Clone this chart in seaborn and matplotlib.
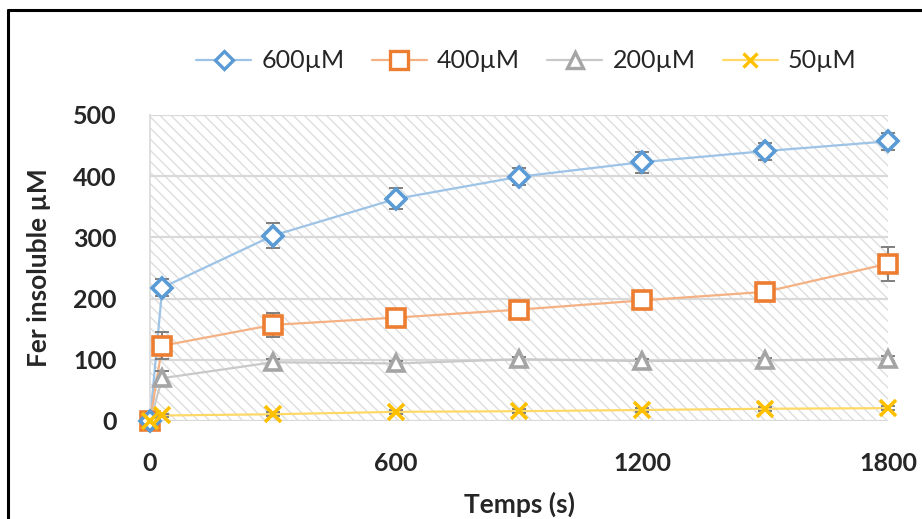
import matplotlib
matplotlib.use("Agg")
import matplotlib.pyplot as plt
from matplotlib.patches import Rectangle
from matplotlib.lines import Line2D
import seaborn as sns
import pandas as pd

# Sampling times (s)
temps = [0, 30, 300, 600, 900, 1200, 1500, 1800]

# Insoluble iron (µM) for each initial concentration, with error bars
fer_600 = [0, 218, 303, 363, 399, 423, 441, 457]
err_600 = [0, 14, 21, 17, 14, 17, 14, 14]
fer_400 = [0, 123, 157, 169, 182, 197, 211, 257]
err_400 = [0, 22, 19, 5, 5, 5, 5, 28]
fer_200 = [0, 70, 96, 94, 101, 98, 99, 102]
err_200 = [0, 12, 5, 4, 4, 4, 4, 4]
fer_50 = [0, 9, 11, 15, 16, 18, 20, 21]
err_50 = [0, 3, 3, 3, 3, 3, 3, 3]

labels = ["600µM", "400µM", "200µM", "50µM"]
xticks = [0, 600, 1200, 1800]
yticks = [0, 100, 200, 300, 400, 500]

sns.set_theme(style="white")
plt.rcParams["font.family"] = ["Lato", "DejaVu Sans"]
plt.rcParams["hatch.linewidth"] = 1.0

series = [
    (labels[0], fer_600, err_600, "D", 10, "#5B9BD5", "#9DC3E6"),
    (labels[1], fer_400, err_400, "s", 13, "#ED7D31", "#F4B183"),
    (labels[2], fer_200, err_200, "^", 12, "#A5A5A5", "#C9C9C9"),
    (labels[3], fer_50, err_50, "x", 11, "#FFC000", "#FFD966"),
]

fig = plt.figure(figsize=(9.22, 5.19), dpi=100)
ax = fig.add_axes([150 / 922, 1 - 421 / 519, 738 / 922, 306 / 519])

# hatched plot area
bg = Rectangle((0, 0), 1, 1, transform=ax.transAxes, facecolor="white",
               edgecolor="#DEDEDE", linewidth=0, hatch="\\\\\\", zorder=0.1)
ax.add_patch(bg)

handles = []
for i, (name, ys, es, mk, ms, mcol, lcol) in enumerate(series):
    df = pd.DataFrame({"Temps": temps, "Fer": ys})
    sns.lineplot(data=df, x="Temps", y="Fer", ax=ax, color=lcol, linewidth=1.6,
                 zorder=2 + i * 0.1, legend=False)
    ax.errorbar(temps, ys, yerr=es, fmt="none", ecolor="#7F7F7F", elinewidth=1.4,
                capsize=5, capthick=1.4, zorder=3, clip_on=False)
    if mk == "x":
        ax.plot(temps, ys, linestyle="none", marker=mk, markersize=ms,
                markeredgecolor=mcol, markeredgewidth=2.6, zorder=4, clip_on=False)
    else:
        ax.plot(temps, ys, linestyle="none", marker=mk, markersize=ms,
                markeredgecolor=mcol, markerfacecolor="white",
                markeredgewidth=2.6, zorder=4 - i * 0.1, clip_on=False)
    handles.append(Line2D([0], [0], color=lcol, linewidth=1.6, marker=mk,
                          markersize=ms * 0.95, markeredgecolor=mcol,
                          markerfacecolor="white", markeredgewidth=2.4, label=name))

ax.set_xlim(0, 1800)
ax.set_ylim(0, 500)
ax.set_xticks(xticks)
ax.set_yticks(yticks)
ax.set_xticklabels([str(t) for t in xticks], fontsize=18, fontweight="bold")
ax.set_yticklabels([str(t) for t in yticks], fontsize=18, fontweight="bold")
ax.tick_params(axis="y", length=0, pad=24)
ax.tick_params(axis="x", length=0, pad=22)
ax.yaxis.grid(True, color="#D9D9D9", linewidth=1.6)
ax.xaxis.grid(False)
ax.set_axisbelow(True)
for s in ["top", "right", "bottom"]:
    ax.spines[s].set_visible(False)
ax.spines["left"].set_color("#D9D9D9")
ax.spines["left"].set_linewidth(1.2)

ax.set_xlabel("Temps (s)", fontsize=19, fontweight="bold", labelpad=12)
ax.set_ylabel("Fer insoluble µM", fontsize=19, fontweight="bold", labelpad=16)

fig.legend(handles=handles, loc="center", bbox_to_anchor=(0.571, 1 - 61 / 519),
           ncol=4, frameon=False, fontsize=18, handlelength=2.2,
           columnspacing=1.1, handletextpad=0.4)

# chart border
fig.add_artist(Line2D([8 / 922, 8 / 922], [0, 1 - 10 / 519], color="black",
                      linewidth=2.2, transform=fig.transFigure))
fig.add_artist(Line2D([8 / 922, 1], [1 - 10 / 519, 1 - 10 / 519], color="black",
                      linewidth=2.2, transform=fig.transFigure))

fig.savefig("out.png", dpi=100)
